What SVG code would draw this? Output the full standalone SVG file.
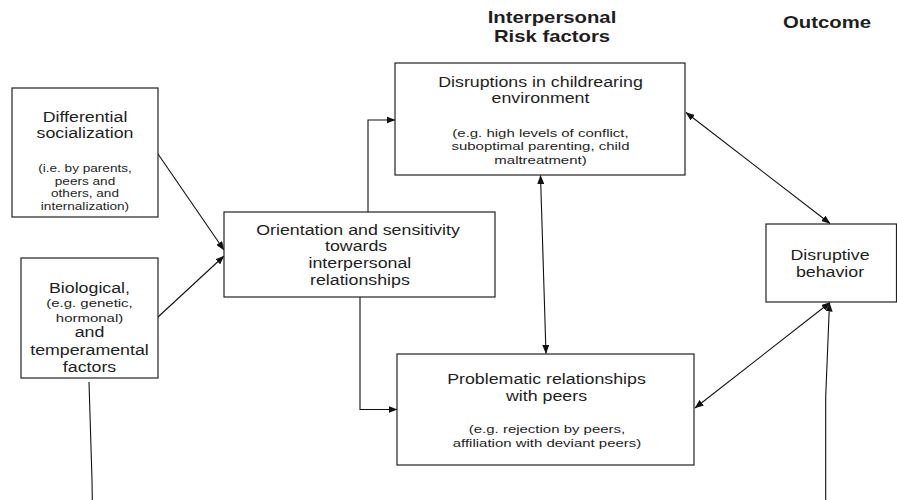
<svg xmlns="http://www.w3.org/2000/svg" width="897" height="500" viewBox="0 0 897 500">
  <style>
    .box { fill: #ffffff; stroke: #222222; stroke-width: 1.2; }
    .lbl { font-family: "Liberation Sans", Arial, sans-serif; fill: #1e1e1e; text-anchor: middle; }
    .hd { font-size: 14px; }
    .sm { font-size: 11.8px; }
    .xs { font-size: 10.7px; }
    .ttl { font-size: 16px; font-weight: bold; }
    .wire { fill: none; stroke: #111111; stroke-width: 1.1; }
  </style>
  <defs>
    <marker id="head" viewBox="0 0 9 7" markerWidth="9" markerHeight="7" refX="8.5" refY="3.5" orient="auto-start-reverse" markerUnits="userSpaceOnUse">
      <path d="M0,0 L9,3.5 L0,7 z" fill="#111111"/>
    </marker>
  </defs>

  <rect width="897" height="500" fill="#ffffff"/>

  <!-- column headings -->
  <g id="headings">
    <text class="lbl ttl" transform="translate(552 0) scale(1.27 1)"><tspan x="0" y="23">Interpersonal</tspan><tspan x="0" y="42">Risk factors</tspan></text>
    <text class="lbl ttl" transform="translate(827 0) scale(1.27 1)"><tspan x="0" y="28">Outcome</tspan></text>
  </g>

  <!-- connectors -->
  <g id="connectors">
    <line class="wire" x1="158" y1="154" x2="224" y2="250" marker-end="url(#head)"/>
    <line class="wire" x1="158" y1="317" x2="224" y2="256" marker-end="url(#head)"/>
    <polyline class="wire" points="368,212 368,120 395,120" marker-end="url(#head)"/>
    <polyline class="wire" points="360,297 360,409.5 397,409.5" marker-end="url(#head)"/>
    <line class="wire" x1="540.5" y1="175.5" x2="546" y2="353.5" marker-start="url(#head)" marker-end="url(#head)"/>
    <line class="wire" x1="686" y1="112.5" x2="830" y2="223.5" marker-start="url(#head)" marker-end="url(#head)"/>
    <line class="wire" x1="695" y1="408" x2="830" y2="302.5" marker-start="url(#head)" marker-end="url(#head)"/>
    <polyline class="wire" points="89,382 92,480 92.3,500"/>
    <polyline class="wire" points="825.7,500 825.7,397 829.5,303" marker-end="url(#head)"/>
  </g>

  <g id="differential-socialization">
    <rect class="box" x="12" y="88" width="146" height="129"/>
    <text class="lbl hd" transform="translate(85 0) scale(1.27 1)"><tspan x="0" y="122">Differential</tspan><tspan x="0" y="138.5">socialization</tspan></text>
    <text class="lbl xs" transform="translate(85 0) scale(1.27 1)"><tspan x="0" y="172.5">(i.e. by parents,</tspan><tspan x="0" y="185">peers and</tspan><tspan x="0" y="197.5">others, and</tspan><tspan x="0" y="210">internalization)</tspan></text>
  </g>

  <g id="biological-factors">
    <rect class="box" x="21" y="258" width="137" height="120"/>
    <text class="lbl hd" transform="translate(89.5 0) scale(1.27 1)"><tspan x="0" y="293.5">Biological,</tspan></text>
    <text class="lbl sm" transform="translate(89.5 0) scale(1.27 1)"><tspan x="0" y="307">(e.g. genetic,</tspan><tspan x="0" y="322">hormonal)</tspan></text>
    <text class="lbl hd" transform="translate(89.5 0) scale(1.27 1)"><tspan x="0" y="337.5">and</tspan><tspan x="0" y="355">temperamental</tspan><tspan x="0" y="372">factors</tspan></text>
  </g>

  <g id="orientation">
    <rect class="box" x="224" y="212" width="271" height="85"/>
    <text class="lbl hd" transform="translate(358 0) scale(1.27 1)"><tspan x="0" y="235">Orientation and sensitivity</tspan><tspan x="-1.5" y="251.5">towards</tspan><tspan x="1.5" y="268.5">interpersonal</tspan><tspan x="1.5" y="285">relationships</tspan></text>
  </g>

  <g id="childrearing-disruptions">
    <rect class="box" x="395" y="63" width="290" height="112"/>
    <text class="lbl hd" transform="translate(540.5 0) scale(1.27 1)"><tspan x="0" y="87.5">Disruptions in childrearing</tspan><tspan x="0" y="103.5">environment</tspan></text>
    <text class="lbl sm" transform="translate(540.5 0) scale(1.27 1)"><tspan x="0" y="137">(e.g. high levels of conflict,</tspan><tspan x="0" y="150.5">suboptimal parenting, child</tspan><tspan x="0" y="164">maltreatment)</tspan></text>
  </g>

  <g id="peer-relationships">
    <rect class="box" x="397" y="354" width="297" height="111"/>
    <text class="lbl hd" transform="translate(546.5 0) scale(1.27 1)"><tspan x="0" y="384">Problematic relationships</tspan><tspan x="0" y="401">with peers</tspan></text>
    <text class="lbl sm" transform="translate(547 0) scale(1.27 1)"><tspan x="0" y="433.5">(e.g. rejection by peers,</tspan><tspan x="0" y="447.5">affiliation with deviant peers)</tspan></text>
  </g>

  <g id="disruptive-behavior">
    <rect class="box" x="766" y="224" width="130.5" height="78"/>
    <text class="lbl hd" transform="translate(830 0) scale(1.27 1)"><tspan x="0" y="260.5">Disruptive</tspan><tspan x="0" y="277.5">behavior</tspan></text>
  </g>
</svg>
